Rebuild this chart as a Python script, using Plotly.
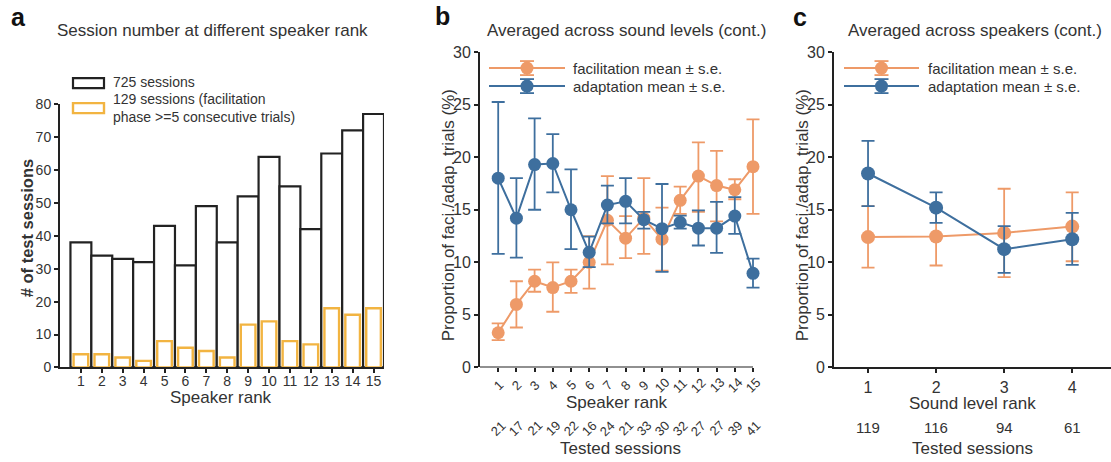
import plotly.graph_objects as go

W, H = 1111, 462
# The photographed page maps figure rows to picture rows as y_pic = V_OFF + V_SCALE * y_fig
# (measured on earlier renders); positions below are given in picture pixels and converted.
V_OFF, V_SCALE = 8.0, 0.962
FONT = "Liberation Sans, Arial, sans-serif"
TXT = "#333333"
AX = "#222222"
ORANGE = "#EE9A68"
BLUE = "#3E6F9E"
GOLD = "#F2B441"

# ---------------- data ----------------
speaker_rank = list(range(1, 16))
sessions_all = [38, 34, 33, 32, 43, 31, 49, 38, 52, 64, 55, 42, 65, 72, 77]
sessions_faci = [4, 4, 3, 2, 8, 6, 5, 3, 13, 14, 8, 7, 18, 16, 18]

b_faci_mean = [3.3, 6.0, 8.2, 7.6, 8.2, 10.0, 14.0, 12.3, 14.2, 12.2, 15.9, 18.2, 17.3, 16.9, 19.1]
b_faci_upper = [4.2, 8.2, 9.3, 10.0, 9.3, 12.5, 18.2, 14.4, 18.0, 15.2, 17.2, 21.4, 20.6, 17.9, 23.6]
b_faci_lower = [2.6, 3.8, 7.2, 5.3, 7.1, 7.5, 9.8, 10.4, 10.8, 9.2, 14.6, 14.8, 13.9, 16.0, 14.6]

b_adap_mean = [18.0, 14.2, 19.3, 19.4, 15.0, 10.95, 15.45, 15.8, 14.05, 13.2, 13.8, 13.25, 13.25, 14.4, 8.95]
b_adap_upper = [25.25, 18.0, 23.7, 22.2, 18.85, 12.45, 17.3, 18.0, 14.8, 17.45, 14.45, 14.95, 15.75, 16.2, 10.35]
b_adap_lower = [10.8, 10.45, 15.0, 16.65, 11.25, 9.55, 13.7, 13.7, 13.2, 9.1, 13.2, 11.6, 10.9, 12.7, 7.6]

b_tested_sessions = [21, 17, 21, 19, 22, 16, 24, 21, 33, 30, 32, 27, 27, 39, 41]

sound_rank = [1, 2, 3, 4]
c_faci_mean = [12.4, 12.45, 12.8, 13.4]
c_faci_upper = [15.35, 15.2, 17.0, 16.65]
c_faci_lower = [9.5, 9.7, 8.6, 10.1]
c_adap_mean = [18.45, 15.2, 11.25, 12.2]
c_adap_upper = [21.55, 16.65, 13.45, 14.7]
c_adap_lower = [15.35, 13.75, 9.0, 9.75]
c_tested_sessions = [119, 116, 94, 61]


def plus(mean, upper):
    return [u - m for m, u in zip(mean, upper)]


def minus(mean, lower):
    return [m - l for m, l in zip(mean, lower)]


def px(x):
    return x / W


def py(y):
    return 1 - ((y - V_OFF) / V_SCALE) / H


fig = go.Figure()

# ---------------- panel a ----------------
fig.add_trace(go.Bar(
    x=speaker_rank, y=sessions_all, width=1.0,
    marker=dict(color="white", line=dict(color=AX, width=2.2)),
    xaxis="x", yaxis="y", name="725 sessions", showlegend=False,
))
fig.add_trace(go.Bar(
    x=speaker_rank, y=sessions_faci, width=0.7,
    marker=dict(color="white", line=dict(color=GOLD, width=2.4)),
    xaxis="x", yaxis="y", name="129 sessions", showlegend=False,
))


def err(mean, upper, lower, color, cw):
    return dict(type="data", symmetric=False, array=plus(mean, upper),
                arrayminus=minus(mean, lower), color=color, thickness=1.8, width=cw)


# ---------------- panel b ----------------
fig.add_trace(go.Scatter(
    x=speaker_rank, y=b_faci_mean, mode="lines+markers", cliponaxis=False,
    line=dict(color=ORANGE, width=2), marker=dict(color=ORANGE, size=13),
    error_y=err(b_faci_mean, b_faci_upper, b_faci_lower, ORANGE, 6.5),
    xaxis="x2", yaxis="y2", showlegend=False, name="facilitation mean ± s.e.",
))
fig.add_trace(go.Scatter(
    x=speaker_rank, y=b_adap_mean, mode="lines+markers", cliponaxis=False,
    line=dict(color=BLUE, width=2), marker=dict(color=BLUE, size=13),
    error_y=err(b_adap_mean, b_adap_upper, b_adap_lower, BLUE, 6.5),
    xaxis="x2", yaxis="y2", showlegend=False, name="adaptation mean ± s.e.",
))

# ---------------- panel c ----------------
fig.add_trace(go.Scatter(
    x=sound_rank, y=c_faci_mean, mode="lines+markers", cliponaxis=False,
    line=dict(color=ORANGE, width=2), marker=dict(color=ORANGE, size=14),
    error_y=err(c_faci_mean, c_faci_upper, c_faci_lower, ORANGE, 6.5),
    xaxis="x3", yaxis="y3", showlegend=False, name="facilitation mean ± s.e.",
))
fig.add_trace(go.Scatter(
    x=sound_rank, y=c_adap_mean, mode="lines+markers", cliponaxis=False,
    line=dict(color=BLUE, width=2), marker=dict(color=BLUE, size=14),
    error_y=err(c_adap_mean, c_adap_upper, c_adap_lower, BLUE, 6.5),
    xaxis="x3", yaxis="y3", showlegend=False, name="adaptation mean ± s.e.",
))

axis_common = dict(showline=True, linecolor=AX, linewidth=2, ticks="outside",
                   ticklen=4, tickwidth=1.5, tickcolor=AX, showgrid=False,
                   zeroline=False, fixedrange=True)

yb0, ya1, yb1 = py(367), py(104), py(52)

# panel b: axis ends at rank 15 (753 px); extra room to the right so caps are not clipped
B_L, B_UNIT = 480, (753 - 480) / 15.0
B_XMAX = 15.45

fig.update_layout(
    width=W, height=H, margin=dict(l=0, r=0, t=0, b=0), autosize=False,
    paper_bgcolor="white", plot_bgcolor="white",
    font=dict(family=FONT, color=TXT, size=14),
    barmode="overlay", showlegend=False,
    xaxis=dict(domain=[px(60), px(384)], range=[0, 15.5], tickvals=speaker_rank,
               tickfont=dict(size=14), ticklabelstandoff=-4, anchor="y", **axis_common),
    yaxis=dict(domain=[yb0, ya1], range=[0, 80], tickvals=list(range(0, 81, 10)),
               tickfont=dict(size=14), anchor="x", **axis_common),
    xaxis2=dict(domain=[px(B_L), px(B_L + B_XMAX * B_UNIT)], range=[0, B_XMAX],
                tickvals=speaker_rank, showticklabels=False, anchor="y2",
                **{**axis_common, "showline": False}),
    yaxis2=dict(domain=[yb0, yb1], range=[0, 30], tickvals=list(range(0, 31, 5)),
                tickfont=dict(size=16), anchor="x2", **axis_common),
    xaxis3=dict(domain=[px(834), 1.0], range=[0.5, 4.57], tickvals=sound_rank,
                tickfont=dict(size=16), anchor="y3", **axis_common),
    yaxis3=dict(domain=[yb0, yb1], range=[0, 30], tickvals=list(range(0, 31, 5)),
                tickfont=dict(size=16), anchor="x3", **axis_common),
)

ann = []


def text(x, y, s, size=17, bold=False, angle=0, xanchor="center", xref="paper",
         yref="paper", color=TXT):
    ann.append(dict(x=x, y=y, xref=xref, yref=yref, text=("<b>%s</b>" % s) if bold else s,
                    showarrow=False, textangle=angle, xanchor=xanchor, yanchor="middle",
                    font=dict(size=size, family=FONT, color=color)))


# panel labels and titles
text(px(18), py(17), "a", size=25, bold=True, color="#111")
text(px(442), py(16), "b", size=25, bold=True, color="#111")
text(px(800), py(17), "c", size=25, bold=True, color="#111")
text(px(212), py(30), "Session number at different speaker rank")
text(px(626), py(30), "Averaged across sound levels (cont.)")
text(px(975), py(30), "Averaged across speakers (cont.)")

# axis titles
text(px(221), py(397), "Speaker rank")
text(px(27), py(228), "# of test sessions", size=16.5, bold=True, angle=-90)
text(px(617), py(402), "Speaker rank")
text(px(620), py(448), "Tested sessions")
text(px(448), py(215), "Proportion of faci./adap. trials (%)", angle=-90)
text(px(972), py(403), "Sound level rank")
text(px(972), py(448), "Tested sessions")
text(px(802), py(215), "Proportion of faci./adap. trials (%)", angle=-90)

# panel b rotated rank labels and tested-session rows
for r in speaker_rank:
    text(r, py(385), str(r), size=13, angle=-45, xref="x2")
for r, s in zip(speaker_rank, b_tested_sessions):
    text(r, py(428), str(s), size=13, angle=-45, xref="x2")
for r, s in zip(sound_rank, c_tested_sessions):
    text(r, py(427), str(s), size=15, xref="x3")

# panel a legend text
text(px(111), py(82), "725 sessions", size=14, xanchor="left")
text(px(111), py(99), "129 sessions (facilitation", size=14, xanchor="left")
text(px(111), py(117), "phase >=5 consecutive trials)", size=14, xanchor="left")

# panel b / c legend text
for x0 in (571, 926):
    text(px(x0), py(68), "facilitation mean ± s.e.", size=15, xanchor="left")
    text(px(x0), py(86), "adaptation mean ± s.e.", size=15, xanchor="left")

fig.update_layout(annotations=ann)

shapes = []
# panel b x-axis line from 0 to the last rank
shapes.append(dict(type="line", xref="x2", yref="y2", x0=0, x1=speaker_rank[-1], y0=0, y1=0,
                   line=dict(color=AX, width=2), layer="above"))
# panel a legend swatches
shapes.append(dict(type="rect", xref="paper", yref="paper", x0=px(73), x1=px(104),
                   y0=py(88), y1=py(78), line=dict(color=AX, width=2.2), fillcolor="white"))
shapes.append(dict(type="rect", xref="paper", yref="paper", x0=px(73), x1=px(104),
                   y0=py(113), y1=py(103), line=dict(color=GOLD, width=2.4), fillcolor="white"))


def legend_item(xl, xr, y, color):
    xc = (xl + xr) / 2
    shapes.append(dict(type="line", xref="paper", yref="paper", x0=px(xl), x1=px(xr),
                       y0=py(y), y1=py(y), line=dict(color=color, width=2)))
    shapes.append(dict(type="line", xref="paper", yref="paper", x0=px(xc), x1=px(xc),
                       y0=py(y - 7), y1=py(y + 7), line=dict(color=color, width=1.8)))
    for dy in (-7, 7):
        shapes.append(dict(type="line", xref="paper", yref="paper", x0=px(xc - 7), x1=px(xc + 7),
                           y0=py(y + dy), y1=py(y + dy), line=dict(color=color, width=1.8)))
    shapes.append(dict(type="circle", xref="paper", yref="paper", x0=px(xc - 6.5), x1=px(xc + 6.5),
                       y0=py(y + 6.5), y1=py(y - 6.5), line=dict(color=color, width=0),
                       fillcolor=color))


legend_item(489, 565, 68, ORANGE)
legend_item(489, 565, 86, BLUE)
legend_item(844, 919, 68, ORANGE)
legend_item(844, 919, 86, BLUE)

fig.update_layout(shapes=shapes)

fig.write_html(
    "out.html",
    post_script=(
        "document.documentElement.style.margin='0';"
        "document.body.style.margin='0';document.body.style.padding='0';"
        "document.documentElement.style.overflow='hidden';"
        "var gd=document.getElementById('{plot_id}');"
        "Plotly.relayout(gd,{width:%d,height:%d});" % (W, H)
    ),
)
